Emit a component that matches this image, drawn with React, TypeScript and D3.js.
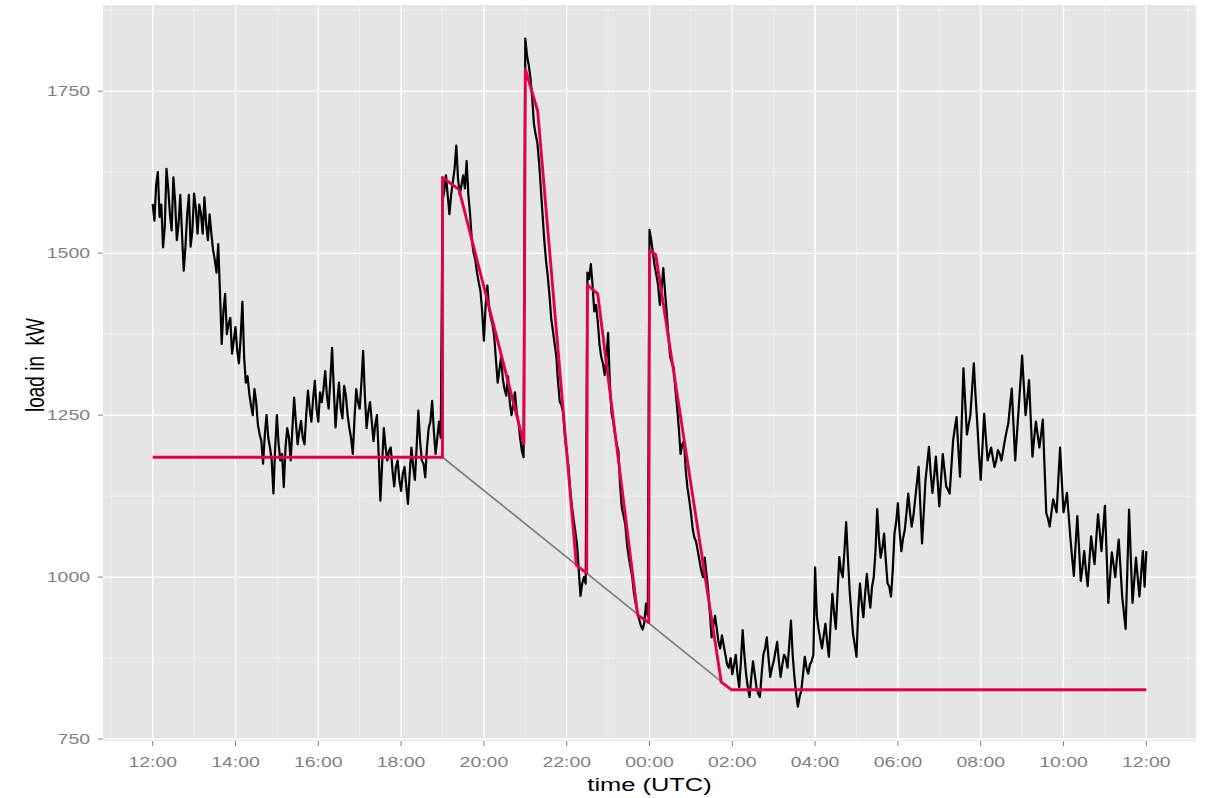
import React from "react";
import * as d3 from "d3";

const width = 1209;
const height = 798;

// measured load, 5 minute steps starting at startTime
const startTime = "2013-05-10 12:00";
const stepMinutes = 5;
const loadValues = [
  1576, 1605, 1556, 1509, 1630, 1560, 1617, 1520, 1590, 1473, 1560, 1510,
  1592, 1530, 1560, 1586, 1520, 1530, 1490, 1514, 1360, 1437, 1391, 1345,
  1386, 1330, 1425, 1300, 1283, 1250, 1270, 1220, 1175, 1250, 1200, 1129,
  1250, 1180, 1139, 1230, 1180, 1277, 1205, 1241, 1205, 1288, 1240, 1303,
  1240, 1270, 1318, 1260, 1354, 1231, 1300, 1245, 1280, 1230, 1190, 1290,
  1260, 1349, 1230, 1270, 1210, 1250, 1118, 1230, 1180, 1200, 1140, 1180,
  1133, 1170, 1113, 1200, 1150, 1257, 1180, 1154, 1230, 1272, 1190, 1240,
  1580, 1620, 1560, 1610, 1666, 1590, 1620, 1642, 1560, 1501, 1470, 1442,
  1365, 1450, 1400, 1371, 1300, 1340, 1290, 1310, 1250, 1285, 1240, 1195,
  1831, 1790, 1740, 1683, 1640, 1560, 1489, 1436, 1380, 1340, 1271, 1253,
  1194, 1136, 1089, 1050, 971, 1000, 1470, 1483, 1410, 1395, 1340, 1312,
  1377, 1253, 1220, 1194, 1106, 1080, 1030, 1000, 959, 935, 919, 959,
  1536, 1500, 1466, 1420, 1477, 1407, 1340, 1324, 1262, 1190, 1210, 1138,
  1100, 1061, 1040, 1010, 1030, 980, 907, 940, 900, 910, 880, 860,
  850, 880, 830, 918, 850, 815, 870, 830, 815, 880, 907, 846,
  870, 900, 846, 880, 860, 933, 846, 800, 825, 877, 851, 870,
  1015, 920, 890, 928, 877, 974, 920, 1031, 1000, 1085, 980, 912,
  877, 990, 938, 1005, 953, 1000, 1105, 1030, 1067, 990, 970, 1067,
  1114, 1040, 1073, 1129, 1078, 1120, 1170, 1052, 1150, 1201, 1130, 1186,
  1109, 1190, 1140, 1129, 1211, 1247, 1155, 1322, 1220, 1250, 1330, 1237,
  1150, 1252, 1180, 1200, 1170, 1196, 1180, 1211, 1237, 1291, 1180, 1260,
  1342, 1250, 1304, 1186, 1240, 1200, 1243, 1099, 1078, 1120, 1100, 1200,
  1100, 1130, 1060, 1002, 1094, 994, 1040, 986, 1063, 1020, 1097, 1040,
  1110, 960, 1038, 1000, 1058, 970, 920, 1104, 960, 1030, 970, 1040,
  1040,
];
// readings taken half a step after each value above
const loadMidValues = [
  1550, 1625, 1575, 1540, 1600, 1535, 1580, 1545, 1530, 1510, 1590, 1535,
  1570, 1575, 1530, 1545, 1560, 1505, 1470, 1440, 1410, 1375, 1400, 1365,
  1350, 1370, 1340, 1310, 1265, 1290, 1235, 1210, 1220, 1215, 1180, 1200,
  1205, 1190, 1200, 1215, 1230, 1240, 1225, 1215, 1250, 1260, 1275, 1260,
  1285, 1290, 1280, 1305, 1290, 1270, 1260, 1295, 1250, 1215, 1245, 1270,
  1300, 1280, 1255, 1240, 1235, 1190, 1175, 1200, 1195, 1165, 1170, 1150,
  1160, 1140, 1160, 1170, 1200, 1210, 1175, 1200, 1240, 1225, 1215, 1215,
  1595, 1590, 1590, 1630, 1615, 1605, 1600, 1590, 1520, 1490, 1455, 1410,
  1420, 1415, 1390, 1335, 1320, 1305, 1280, 1270, 1265, 1255, 1215, 1185,
  1805, 1770, 1700, 1670, 1600, 1520, 1465, 1400, 1360, 1300, 1265, 1215,
  1170, 1110, 1070, 1010, 990, 990, 1460, 1450, 1420, 1360, 1330, 1335,
  1300, 1240, 1205, 1140, 1095, 1050, 1015, 975, 945, 925, 930, 940,
  1520, 1480, 1450, 1445, 1440, 1370, 1330, 1290, 1230, 1205, 1165, 1120,
  1075, 1055, 1025, 1000, 1005, 945, 925, 920, 890, 895, 865, 875,
  865, 850, 870, 880, 830, 845, 850, 820, 850, 890, 875, 860,
  885, 870, 865, 875, 895, 880, 820, 815, 850, 860, 865, 880,
  940, 905, 910, 900, 930, 945, 975, 1010, 1040, 1030, 945, 895,
  950, 960, 975, 975, 985, 1040, 1060, 1045, 1025, 985, 1010, 1085,
  1070, 1060, 1100, 1100, 1095, 1145, 1110, 1100, 1175, 1160, 1155, 1150,
  1150, 1165, 1135, 1170, 1230, 1200, 1240, 1270, 1235, 1290, 1280, 1190,
  1200, 1215, 1190, 1185, 1180, 1190, 1195, 1225, 1265, 1235, 1220, 1300,
  1295, 1275, 1245, 1215, 1220, 1220, 1170, 1090, 1100, 1110, 1150, 1150,
  1115, 1095, 1030, 1050, 1045, 1015, 1010, 1025, 1040, 1060, 1070, 1075,
  1035, 1000, 1020, 1030, 1015, 945, 1010, 1030, 995, 1000, 1005, 985,
];

// optimised (shaved) load profile
const profileTimes = [
  "2013-05-10 12:00", "2013-05-10 19:00", "2013-05-10 19:00", "2013-05-10 19:24",
  "2013-05-10 20:58", "2013-05-10 21:00", "2013-05-10 21:18", "2013-05-10 22:14",
  "2013-05-10 22:29", "2013-05-10 22:30", "2013-05-10 22:45", "2013-05-10 23:43",
  "2013-05-10 23:59", "2013-05-11 00:00", "2013-05-11 00:09", "2013-05-11 01:44",
  "2013-05-11 01:59", "2013-05-11 12:00",
];
const profileValues = [
  1185, 1185, 1617, 1598, 1206, 1784, 1719, 1018, 1006, 1451, 1437, 941,
  930, 1504, 1498, 838, 826, 826,
];

// straight baseline between start and end of the peak period
const baselineTimes = ["2013-05-10 19:00", "2013-05-11 01:59"];
const baselineValues = [1185, 826];

const yTicks = [750, 1000, 1250, 1500, 1750];
const yMinorTicks = [875, 1125, 1375, 1625, 1875];

const parse = d3.utcParse("%Y-%m-%d %H:%M");
const fmt = d3.utcFormat("%H:%M");

const panel = { left: 103, right: 1196, top: 5, bottom: 741 };
const stretch = 1.34;
const font = "'Liberation Sans', Arial, Helvetica, sans-serif";

type Pt = { t: Date; v: number };

export default function App() {
  const t0 = parse(startTime) as Date;
  const t1 = d3.utcHour.offset(t0, 24);

  const x = d3
    .scaleUtc()
    .domain([d3.utcMinute.offset(t0, -72), d3.utcMinute.offset(t1, 72)])
    .range([panel.left, panel.right]);
  const y = d3.scaleLinear().domain([747, 1883]).range([panel.bottom, panel.top]);

  const majorX = d3.utcHour.every(2)!.range(t0, d3.utcMinute.offset(t1, 1));
  const minorX = d3.utcHour
    .range(d3.utcHour.offset(t0, -1), d3.utcHour.offset(t1, 2))
    .filter((d) => d.getUTCHours() % 2 === 1)
    .filter((d) => x(d) > panel.left && x(d) < panel.right);

  const load: Pt[] = [];
  loadValues.forEach((v, i) => {
    const t = d3.utcSecond.offset(t0, i * stepMinutes * 60);
    load.push({ t, v });
    if (i < loadMidValues.length) {
      load.push({ t: d3.utcSecond.offset(t, (stepMinutes * 60) / 2), v: loadMidValues[i] });
    }
  });
  const profile: Pt[] = profileValues.map((v, i) => ({ t: parse(profileTimes[i]) as Date, v }));
  const baseline: Pt[] = baselineValues.map((v, i) => ({ t: parse(baselineTimes[i]) as Date, v }));

  const line = d3
    .line<Pt>()
    .x((d) => x(d.t))
    .y((d) => y(d.v));

  return (
    <svg
      width={width}
      height={height}
      style={{ position: "absolute", left: 0, top: 0, background: "#fff" }}
    >
      <rect
        x={panel.left}
        y={panel.top}
        width={panel.right - panel.left}
        height={panel.bottom - panel.top}
        fill="#e5e5e5"
      />
      {yMinorTicks
        .filter((v) => y(v) > panel.top)
        .map((v) => (
          <line key={"ym" + v} x1={panel.left} x2={panel.right} y1={y(v)} y2={y(v)} stroke="#f2f2f2" strokeWidth={0.7} />
        ))}
      {minorX.map((d) => (
        <line key={"xm" + d.getTime()} x1={x(d)} x2={x(d)} y1={panel.top} y2={panel.bottom} stroke="#f2f2f2" strokeWidth={0.7} />
      ))}
      {yTicks.map((v) => (
        <line key={"yg" + v} x1={panel.left} x2={panel.right} y1={y(v)} y2={y(v)} stroke="#fff" strokeWidth={1.4} />
      ))}
      {majorX.map((d) => (
        <line key={"xg" + d.getTime()} x1={x(d)} x2={x(d)} y1={panel.top} y2={panel.bottom} stroke="#fff" strokeWidth={1.4} />
      ))}

      <path d={line(load) ?? ""} fill="none" stroke="#000" strokeWidth={2.2} strokeLinejoin="round" />
      <path d={line(baseline) ?? ""} fill="none" stroke="#7f7f7f" strokeWidth={1.7} />
      <path d={line(profile) ?? ""} fill="none" stroke="#e5004b" strokeWidth={2.9} strokeLinejoin="round" />

      {/* y axis */}
      {yTicks.map((v) => (
        <g key={"yt" + v}>
          <line x1={panel.left - 5} x2={panel.left} y1={y(v)} y2={y(v)} stroke="#7f7f7f" strokeWidth={1} />
          <text
            transform={`translate(${panel.left - 13},${y(v) + 5}) scale(${stretch},1)`}
            textAnchor="end"
            fontFamily={font}
            fontSize={14.5}
            fill="#7f7f7f"
          >
            {v}
          </text>
        </g>
      ))}
      {/* x axis */}
      {majorX.map((d) => (
        <g key={"xt" + d.getTime()}>
          <line x1={x(d)} x2={x(d)} y1={panel.bottom} y2={panel.bottom + 5} stroke="#7f7f7f" strokeWidth={1} />
          <text
            transform={`translate(${x(d)},${panel.bottom + 26}) scale(${stretch},1)`}
            textAnchor="middle"
            fontFamily={font}
            fontSize={14.5}
            fill="#7f7f7f"
          >
            {fmt(d)}
          </text>
        </g>
      ))}
      <text
        transform={`translate(${(panel.left + panel.right) / 2},${791}) scale(${stretch},1)`}
        textAnchor="middle"
        fontFamily={font}
        fontSize={19}
        fill="#000"
      >
        time (UTC)
      </text>
      <text
        transform={`translate(44,${365}) scale(${stretch},1) rotate(-90)`}
        textAnchor="middle"
        fontFamily={font}
        fontSize={19}
        fill="#000"
        style={{ whiteSpace: "pre" }}
      >
        {"load in  kW"}
      </text>
    </svg>
  );
}
